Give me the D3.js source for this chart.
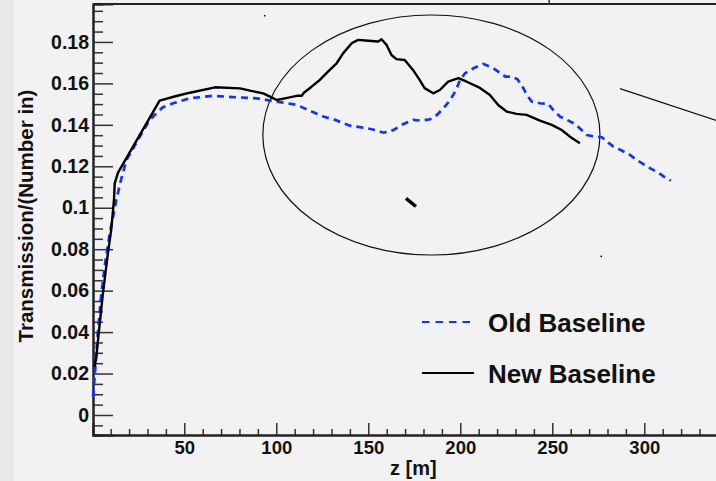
<!DOCTYPE html>
<html>
<head>
<meta charset="utf-8">
<script src="https://cdn.jsdelivr.net/npm/d3@7"></script>
<style>
  body { margin: 0; background: #f2f2f2; }
  svg { display: block; font-family: "Liberation Sans", Arial, sans-serif; font-weight: bold; }
</style>
</head>
<body>
<div id="app"></div>
<script>
// new baseline (solid black)
const newZ = [1.3, 2.2, 3.5, 5.8, 8.5, 10.3, 11.8, 12.2, 14.0, 36.6, 45.7, 53.1, 66.7, 80.3, 85.7, 92.9, 96.6, 100.2,
  104.7, 111.1, 113.8, 115.0, 119.2, 123.7, 128.1, 132.8, 136.4, 141.0, 144.6, 150.0, 155.4, 157.2, 159.9, 162.6,
  165.3, 169.8, 174.3, 177.9, 180.6, 185.3, 188.9, 193.4, 199.0, 203.5, 210.7, 216.1, 220.6, 225.2, 230.6, 236.0,
  243.3, 249.7, 255.1, 259.6, 265.0];
const newT = [0.0232, 0.0281, 0.0394, 0.0587, 0.0780, 0.0893, 0.1038, 0.1118, 0.1169, 0.1517, 0.1539, 0.1555, 0.1581,
  0.1576, 0.1565, 0.1552, 0.1536, 0.1520, 0.1528, 0.1540, 0.1540, 0.1555, 0.1584, 0.1617, 0.1657, 0.1697, 0.1746,
  0.1794, 0.1810, 0.1806, 0.1802, 0.1813, 0.1786, 0.1737, 0.1717, 0.1713, 0.1665, 0.1617, 0.1577, 0.1552, 0.1568,
  0.1608, 0.1625, 0.1608, 0.1578, 0.1544, 0.1496, 0.1464, 0.1453, 0.1448, 0.1420, 0.1400, 0.1375, 0.1343, 0.1311];

// old baseline (dashed blue)
const oldZ = [0.4, 1.3, 2.7, 4.6, 6.7, 9.5, 13.1, 15.6, 18.6, 24.8, 31.2, 34.8, 38.4, 43.9, 53.1, 65.8, 78.5, 89.3,
  96.6, 103.9, 111.2, 119.2, 125.5, 131.9, 140.0, 149.2, 153.7, 158.3, 163.7, 169.1, 174.5, 179.1, 183.6, 187.3,
  190.9, 194.5, 197.7, 199.9, 202.6, 207.2, 212.6, 218.0, 224.4, 228.0, 231.1, 234.0, 236.2, 238.8, 243.3, 247.8,
  250.5, 254.2, 257.9, 262.4, 268.8, 273.3, 276.9, 280.4, 283.2, 287.7, 292.2, 295.8, 299.5, 303.1, 307.6, 311.2, 314.4];
const oldT = [0.0088, 0.0185, 0.0362, 0.0555, 0.0716, 0.0877, 0.1038, 0.1134, 0.1231, 0.1327, 0.1424, 0.1456, 0.1485,
  0.1504, 0.1528, 0.1540, 0.1533, 0.1528, 0.1517, 0.1507, 0.1496, 0.1464, 0.1440, 0.1424, 0.1396, 0.1384, 0.1375,
  0.1362, 0.1375, 0.1404, 0.1424, 0.1420, 0.1427, 0.1448, 0.1480, 0.1520, 0.1568, 0.1617, 0.1649, 0.1673, 0.1694,
  0.1673, 0.1633, 0.1633, 0.1620, 0.1581, 0.1544, 0.1512, 0.1504, 0.1501, 0.1472, 0.1440, 0.1424, 0.1404, 0.1351,
  0.1343, 0.1340, 0.1314, 0.1295, 0.1276, 0.1255, 0.1231, 0.1210, 0.1191, 0.1169, 0.1147, 0.1131];

const yTicks = [0, 0.02, 0.04, 0.06, 0.08, 0.1, 0.12, 0.14, 0.16, 0.18];
const xTicks = [50, 100, 150, 200, 250, 300];
const legendLabels = ['Old Baseline', 'New Baseline'];

// hand-drawn annotations, in data units
const ellipse = { z: 184.3, t: 0.1351, rz: 91.6, rt: 0.0579 };
const strokeLine = [[286.8, 0.1575], [351.9, 0.1384]];
const wedge = [[170.5, 0.1045], [175.9, 0.1006]];
const specks = [[93.3, 0.1930], [276.2, 0.0769]];

const width = 716;
const height = 481;

const svg = d3.select('#app').append('svg')
  .attr('width', width)
  .attr('height', height);

svg.append('rect').attr('width', width).attr('height', height).attr('fill', '#f2f2f2');
svg.append('rect').attr('width', 14).attr('height', height).attr('fill', '#e8e8e8');

const x = d3.scaleLinear().domain([0.4, 350]).range([93, 736.3]);
const y = d3.scaleLinear().domain([-0.00965, 0.1983]).range([435, 4]);

// 1. frame + axes
svg.append('line')
  .attr('x1', 93).attr('x2', width).attr('y1', 4).attr('y2', 4)
  .attr('stroke', '#222').attr('stroke-width', 2);
svg.append('line') // stray tick on top edge
  .attr('x1', x(248.3)).attr('x2', x(248.3)).attr('y1', 0).attr('y2', 5)
  .attr('stroke', '#333').attr('stroke-width', 1.5);

const yMinor = d3.range(-0.005, 0.1981, 0.005).filter(v => Math.abs(v / 0.02 - Math.round(v / 0.02)) > 1e-6);
const yMinorAxis = svg.append('g')
  .attr('transform', 'translate(93,0)')
  .call(d3.axisLeft(y).tickValues(yMinor).tickSize(-10).tickFormat(''));
const yAxis = svg.append('g')
  .attr('transform', 'translate(93,0)')
  .call(d3.axisLeft(y).tickValues(yTicks).tickSize(-20).tickPadding(4).tickFormat(d3.format('')));

const xMinor = d3.range(10, 350, 10).filter(v => v % 50 !== 0);
const xMinorAxis = svg.append('g')
  .attr('transform', 'translate(0,435)')
  .call(d3.axisBottom(x).tickValues(xMinor).tickSize(-6).tickFormat(''));
const xAxis = svg.append('g')
  .attr('transform', 'translate(0,435)')
  .call(d3.axisBottom(x).tickValues(xTicks).tickSize(-12).tickPadding(6));

[yMinorAxis, yAxis, xMinorAxis, xAxis].forEach(g => {
  g.select('.domain').attr('stroke', '#222').attr('stroke-width', 2);
  g.selectAll('.tick line').attr('stroke', '#333').attr('stroke-width', 1.5);
  g.selectAll('text')
    .attr('fill', '#111')
    .style('font-size', '18.5px')
    .style('font-weight', 'bold');
});
yAxis.selectAll('text').attr('x', -4).style('font-size', '19.5px');

svg.append('text')
  .attr('x', x(174.5)).attr('y', 475)
  .attr('text-anchor', 'middle')
  .style('font-size', '20px')
  .attr('fill', '#111')
  .text('z [m]');

svg.append('text')
  .attr('transform', 'translate(33,216) rotate(-90)')
  .attr('text-anchor', 'middle')
  .style('font-size', '20.5px')
  .attr('fill', '#111')
  .text('Transmission/(Number in)');

// 2. annotations
svg.append('ellipse')
  .attr('cx', x(ellipse.z)).attr('cy', y(ellipse.t))
  .attr('rx', x(ellipse.z + ellipse.rz) - x(ellipse.z))
  .attr('ry', y(ellipse.t - ellipse.rt) - y(ellipse.t))
  .attr('fill', 'none').attr('stroke', '#111').attr('stroke-width', 1.2);

svg.append('line')
  .attr('x1', x(strokeLine[0][0])).attr('y1', y(strokeLine[0][1]))
  .attr('x2', x(strokeLine[1][0])).attr('y2', y(strokeLine[1][1]))
  .attr('stroke', '#111').attr('stroke-width', 1.2);

svg.append('line')
  .attr('x1', x(wedge[0][0])).attr('y1', y(wedge[0][1]))
  .attr('x2', x(wedge[1][0])).attr('y2', y(wedge[1][1]))
  .attr('stroke', '#000').attr('stroke-width', 3.5);

svg.selectAll('rect.speck')
  .data(specks)
  .enter()
    .append('rect')
    .attr('class', 'speck')
    .attr('x', d => x(d[0])).attr('y', d => y(d[1]))
    .attr('width', 1.5).attr('height', 1.5)
    .attr('fill', '#000');

// 3. curves
const line = d3.line().x(d => x(d[0])).y(d => y(d[1]));
const oldPts = oldZ.map((z, i) => [z, oldT[i]]);
const newPts = newZ.map((z, i) => [z, newT[i]]);

svg.append('path')
  .attr('d', line(oldPts))
  .attr('fill', 'none')
  .attr('stroke', '#1133ff')
  .attr('stroke-width', 2.7)
  .attr('stroke-dasharray', '7,5');

svg.append('path')
  .attr('d', line(newPts))
  .attr('fill', 'none')
  .attr('stroke', '#000')
  .attr('stroke-width', 2.4)
  .attr('stroke-linejoin', 'round');

// 4. legend
const legend = svg.append('g')
  .selectAll('g')
  .data(legendLabels)
  .enter()
    .append('g')
    .attr('transform', (d, i) => `translate(0, ${322 + i * 51})`);

legend.append('line')
  .attr('x1', 422).attr('x2', 474)
  .attr('stroke', (d, i) => i === 0 ? '#1133ff' : '#000')
  .attr('stroke-width', (d, i) => i === 0 ? 2.2 : 2)
  .attr('stroke-dasharray', (d, i) => i === 0 ? '7.5,6' : null);

legend.append('text')
  .attr('x', 488).attr('y', 10)
  .style('font-size', '26px')
  .attr('fill', '#111')
  .text(d => d);
</script>
</body>
</html>
